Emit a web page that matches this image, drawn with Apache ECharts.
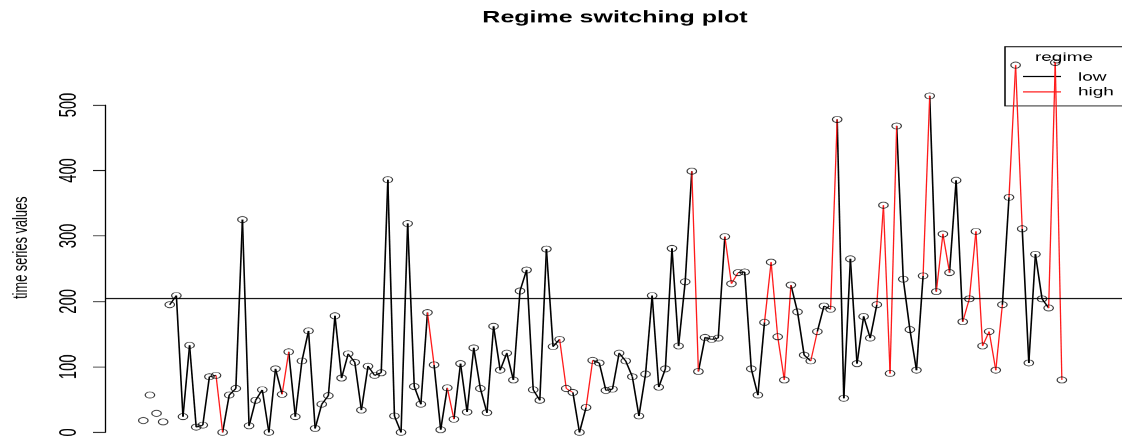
<!DOCTYPE html>
<html>
<head>
<meta charset="utf-8">
<script src="https://cdn.jsdelivr.net/npm/echarts@6/dist/echarts.min.js"></script>
<style>
  html, body { margin: 0; padding: 0; background: #fff; overflow: hidden; }
  #wrap { width: 1122px; height: 439px; overflow: hidden; }
  /* drawn tall, then squeezed vertically */
  #chart { width: 1122px; height: 686px; transform: scaleY(0.64); transform-origin: 0 0; }
</style>
</head>
<body>
<div id="wrap"><div id="chart"></div></div>
<script>
// observed series (time index 1..140)
const values = [
  18, 57, 29, 16, 195, 209, 24, 133, 8, 11,
  85, 87, 0, 57, 67, 325, 10, 49, 65, 0,
  97, 58, 123, 24, 109, 155, 6, 43, 56, 178,
  83, 120, 107, 34, 101, 87, 91, 386, 25, 0,
  319, 70, 43, 183, 103, 4, 68, 20, 105, 31,
  129, 67, 30, 162, 95, 121, 80, 216, 248, 65,
  49, 280, 131, 142, 67, 61, 0, 38, 110, 106,
  64, 66, 121, 109, 85, 25, 89, 209, 69, 97,
  281, 132, 230, 399, 93, 145, 142, 144, 299, 227,
  244, 245, 97, 57, 168, 260, 146, 80, 225, 184,
  118, 109, 154, 193, 188, 478, 52, 265, 105, 177,
  144, 195, 347, 90, 468, 234, 157, 95, 239, 514,
  215, 303, 244, 385, 169, 204, 307, 132, 154, 95,
  195, 359, 561, 311, 106, 272, 204, 190, 565, 80
];

// regime of the step arriving at each time point (first points have no step)
const H = 'high', L = 'low', N = null;
const regime = [
  N, N, N, N, N, L, L, L, L, L,
  L, L, H, L, L, L, L, L, L, L,
  L, L, H, L, L, L, L, L, L, L,
  L, L, L, L, L, L, L, L, L, L,
  L, L, L, L, H, L, L, H, L, L,
  L, L, L, L, L, L, L, L, L, L,
  L, L, L, L, H, H, L, L, H, L,
  L, L, L, L, L, L, L, L, L, L,
  L, L, L, L, H, L, L, L, L, H,
  H, L, L, L, L, H, H, H, H, L,
  L, L, H, L, L, H, L, L, L, L,
  L, L, H, H, H, L, L, L, L, H,
  L, H, H, L, L, H, H, H, H, H,
  H, L, H, H, L, L, L, L, H, H
];

const yTicks = [0, 100, 200, 300, 400, 500];
const threshold = 205;
const regimeNames = ['low', 'high'];
const regimeColors = { low: '#000000', high: '#ff1a1a' };

const FONT = '"Liberation Sans", Arial, Helvetica, sans-serif';
const NARROW = '"Liberation Sans Narrow", "Arial Narrow", "Liberation Sans", sans-serif';

// build step segments per regime
function segmentsFor(name) {
  const out = [];
  for (let i = 1; i < values.length; i++) {
    if (regime[i] === name) out.push([i, values[i - 1], i + 1, values[i]]);
  }
  return out;
}

function segmentSeries(name, width) {
  return {
    name: name,
    type: 'custom',
    data: segmentsFor(name),
    encode: { x: [0, 2], y: [1, 3] },
    clip: false,
    z: 2,
    renderItem: function (params, api) {
      const a = api.coord([api.value(0), api.value(1)]);
      const b = api.coord([api.value(2), api.value(3)]);
      return {
        type: 'line',
        shape: { x1: a[0], y1: a[1], x2: b[0], y2: b[1] },
        style: { stroke: regimeColors[name], lineWidth: width }
      };
    }
  };
}

const points = values.map((v, i) => [i + 1, v]);

const chart = echarts.init(document.getElementById('chart'), null, { renderer: 'canvas' });
chart.setOption({
  animation: false,
  backgroundColor: '#ffffff',
  grid: { left: 105, right: 0, top: 164.1, bottom: 10.5, containLabel: false, outerBoundsMode: 'none' },
  xAxis: {
    type: 'value', min: -4.8, max: 149.1, show: false
  },
  yAxis: {
    type: 'value', min: yTicks[0], max: yTicks[yTicks.length - 1], interval: 100,
    axisLine: { show: true, onZero: false, lineStyle: { color: '#000', width: 1.3 } },
    axisTick: { show: true, length: 12, inside: false, lineStyle: { color: '#000', width: 1.3 } },
    axisLabel: {
      rotate: 90, margin: 24, fontSize: 23, fontFamily: NARROW, color: '#000',
      formatter: v => yTicks.includes(v) ? String(v) : ''
    },
    splitLine: { show: false }
  },
  graphic: [
    {
      type: 'text', x: 615, y: 28,
      style: { text: 'Regime switching plot', font: 'bold 25px ' + FONT, fill: '#000', align: 'center', verticalAlign: 'middle' }
    },
    {
      type: 'text', x: 21, y: 387, rotation: Math.PI / 2,
      style: { text: 'time series values', font: '20px ' + NARROW, fill: '#000', align: 'center', verticalAlign: 'middle' }
    },
    {
      type: 'group',
      children: [
        { type: 'rect', shape: { x: 1005, y: 73, width: 200, height: 92.5 },
          style: { fill: 'none', stroke: '#000', lineWidth: 1.5 } },
        { type: 'text', x: 1064, y: 90, style: { text: 'regime', font: '19px ' + FONT, fill: '#000', align: 'center', verticalAlign: 'middle' } },
        { type: 'line', shape: { x1: 1023, y1: 119.5, x2: 1061, y2: 119.5 }, style: { stroke: regimeColors.low, lineWidth: 1.6 } },
        { type: 'line', shape: { x1: 1023, y1: 143.5, x2: 1061, y2: 143.5 }, style: { stroke: regimeColors.high, lineWidth: 1.8 } },
        { type: 'text', x: 1078, y: 120.8, style: { text: regimeNames[0], font: '19px ' + FONT, fill: '#000', align: 'left', verticalAlign: 'middle' } },
        { type: 'text', x: 1078, y: 144, style: { text: regimeNames[1], font: '19px ' + FONT, fill: '#000', align: 'left', verticalAlign: 'middle' } }
      ]
    }
  ],
  series: [
    segmentSeries('low', 1.6),
    segmentSeries('high', 1.3),
    {
      name: 'observations',
      type: 'scatter',
      data: points,
      symbol: 'circle',
      symbolSize: 9.5,
      clip: false,
      z: 3,
      itemStyle: { color: 'rgba(0,0,0,0)', borderColor: '#000', borderWidth: 1.2 },
      markLine: {
        silent: true,
        symbol: ['none', 'none'],
        label: { show: false },
        lineStyle: { color: '#000', width: 1.3, type: 'solid' },
        data: [{ yAxis: threshold }]
      }
    }
  ]
});
</script>
</body>
</html>
